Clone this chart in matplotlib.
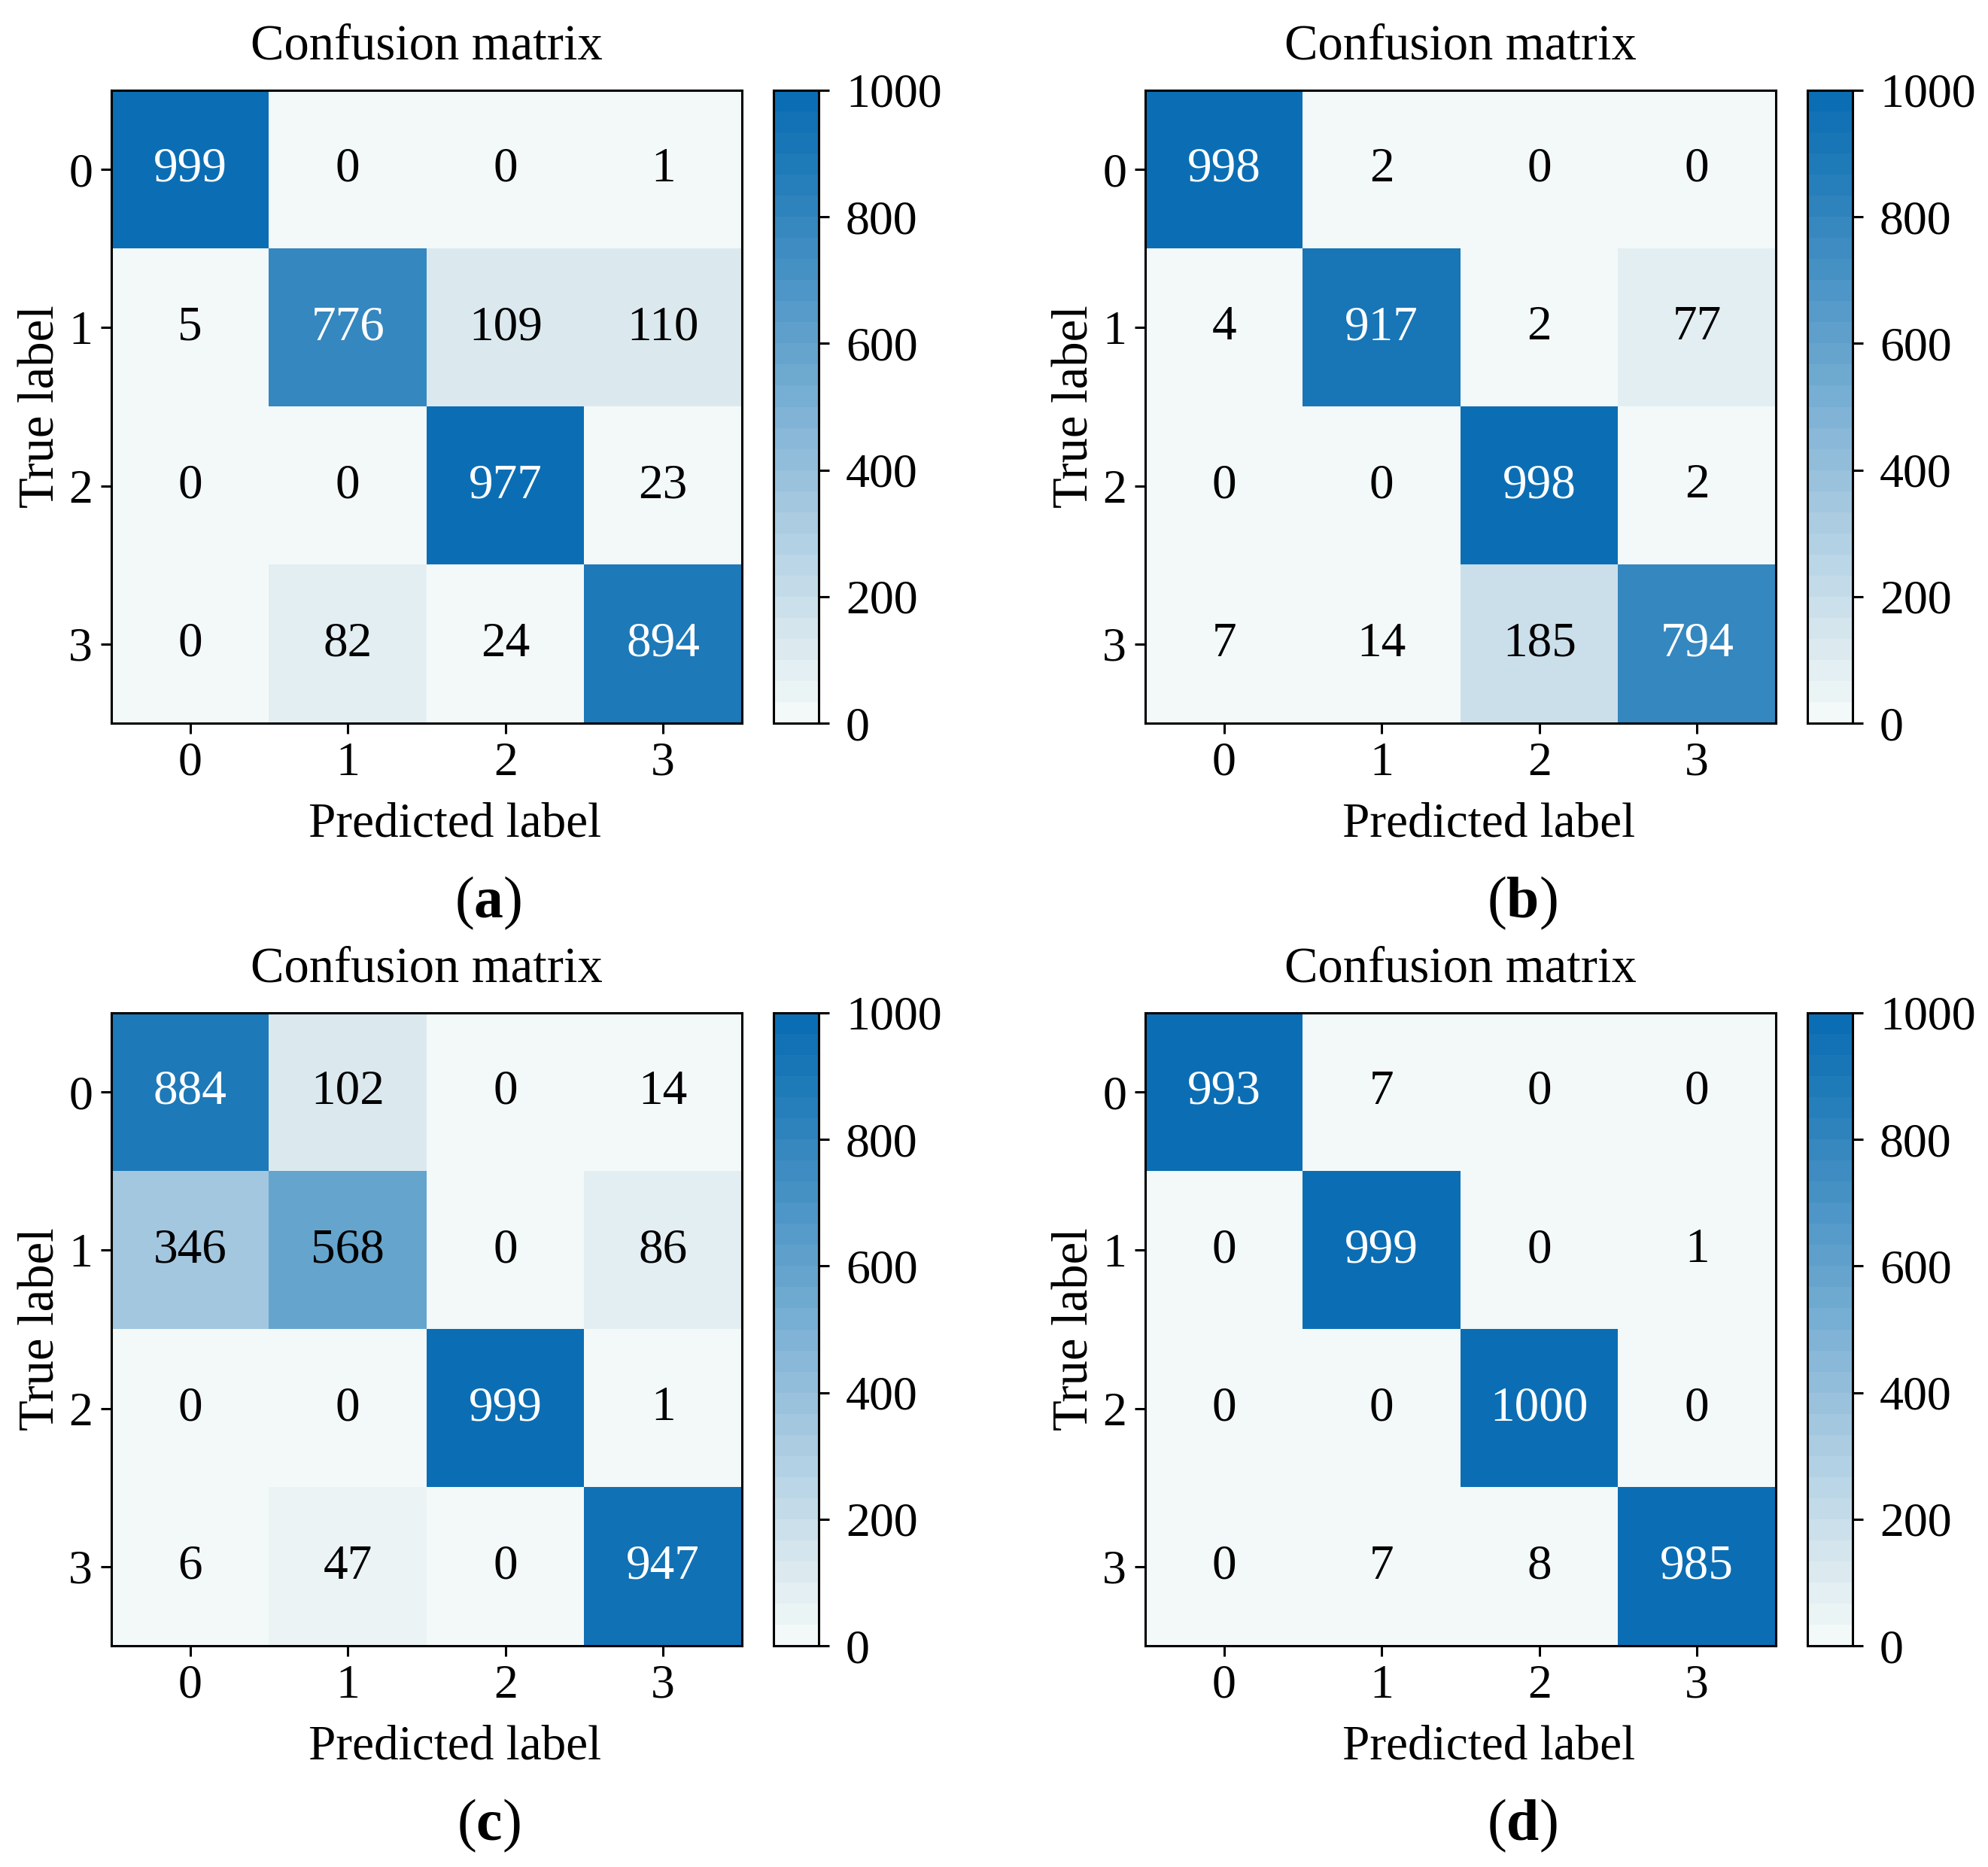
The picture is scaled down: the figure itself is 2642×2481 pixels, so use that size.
import numpy as np
import matplotlib
matplotlib.use("Agg")
import matplotlib.pyplot as plt
from matplotlib.colors import LinearSegmentedColormap

plt.rcParams['font.family'] = ['Liberation Serif', 'DejaVu Serif']
plt.rcParams['mathtext.fontset'] = 'custom'
plt.rcParams['mathtext.rm'] = 'Liberation Serif'
plt.rcParams['mathtext.bf'] = 'Liberation Serif:bold'
plt.rcParams['axes.linewidth'] = 1.1

class_labels = ['0', '1', '2', '3']
panel_names = ['a', 'b', 'c', 'd']

cm_a = [[999, 0, 0, 1],
        [5, 776, 109, 110],
        [0, 0, 977, 23],
        [0, 82, 24, 894]]
cm_b = [[998, 2, 0, 0],
        [4, 917, 2, 77],
        [0, 0, 998, 2],
        [7, 14, 185, 794]]
cm_c = [[884, 102, 0, 14],
        [346, 568, 0, 86],
        [0, 0, 999, 1],
        [6, 47, 0, 947]]
cm_d = [[993, 7, 0, 0],
        [0, 999, 0, 1],
        [0, 0, 1000, 0],
        [0, 7, 8, 985]]
cbar_ticks = [0, 200, 400, 600, 800, 1000]

# colour ramp, banded like the original colorbar
cmap = LinearSegmentedColormap.from_list(
    'cm_blues',
    [(0.0, '#f3f9f8'), (0.102, '#dceaf0'), (0.346, '#a3c7df'),
     (0.568, '#6aa7cf'), (0.884, '#217bb9'), (1.0, '#0b6eb4')],
    N=30)

W, H = 2642, 2481
fig = plt.figure(figsize=(W / 200, H / 200), dpi=200)


def px_rect(left, top, right, bottom):
    return [left / W, 1 - bottom / H, (right - left) / W, (bottom - top) / H]


def plot_cm(cm, name, x0, y0):
    cm = np.array(cm)
    ax = fig.add_axes(px_rect(x0, y0, x0 + 838, y0 + 841))
    cax = fig.add_axes(px_rect(x0 + 880, y0, x0 + 940, y0 + 841))
    im = ax.imshow(cm, interpolation='nearest', cmap=cmap, vmin=0, vmax=1000,
                   aspect='auto')
    ax.set_title('Confusion matrix', fontsize=24, pad=15)
    ticks = np.arange(len(class_labels))
    ax.set_xticks(ticks)
    ax.set_xticklabels(class_labels)
    ax.set_yticks(ticks)
    ax.set_yticklabels(class_labels)
    ax.tick_params(labelsize=23, width=1.1, length=5, pad=4)
    thresh = cm.max() / 1.5
    for i in range(cm.shape[0]):
        for j in range(cm.shape[1]):
            ax.text(j, i, str(cm[i, j]), ha='center', va='center', fontsize=23.5,
                    color='white' if cm[i, j] > thresh else 'black')
    ax.set_ylabel('True label', fontsize=24, labelpad=2)
    ax.set_xlabel('Predicted label', fontsize=23.5)
    ax.xaxis.set_label_coords(0.545, -0.125)

    cb = fig.colorbar(im, cax=cax, ticks=cbar_ticks)
    cb.outline.set_linewidth(1.1)
    cb.ax.tick_params(labelsize=23, width=1.1, length=5, pad=8)

    fig.text((x0 + 501) / W, 1 - (y0 + 1080) / H,
             r'($\mathbf{' + name + '}$)', ha='center', va='center',
             fontsize=28)


panels = [cm_a, cm_b, cm_c, cm_d]
origins = [(148, 120), (1522, 120), (148, 1346), (1522, 1346)]
for cm, name, (x0, y0) in zip(panels, panel_names, origins):
    plot_cm(cm, name, x0, y0)

fig.savefig('out.png', dpi=200, facecolor='white')
